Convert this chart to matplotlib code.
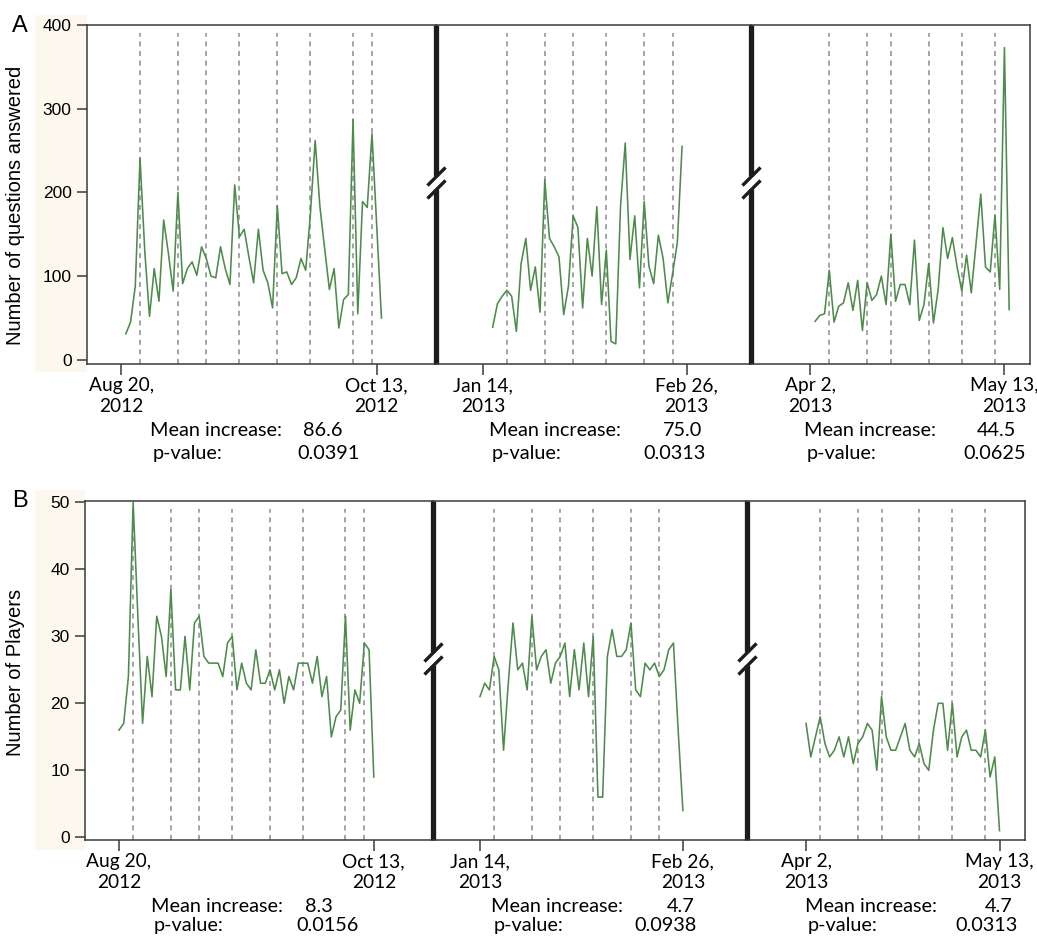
import numpy as np
import matplotlib
matplotlib.use("Agg")
import matplotlib.pyplot as plt
import matplotlib.dates as mdates
from matplotlib.patches import Rectangle

# questions answered per day, one list per study period (panel A)
answered_1 = [31, 45, 88, 241, 130, 52, 109, 70, 167, 127, 82, 200, 91, 109, 117, 101, 135, 121, 100, 98,
              135, 109, 90, 209, 147, 156, 123, 92, 156, 107, 92, 62, 184, 103, 105, 90, 98, 121, 107, 175,
              262, 183, 133, 84, 109, 38, 72, 78, 287, 55, 189, 182, 270, 160, 50]
answered_2 = [39, 67, 76, 83, 76, 34, 115, 145, 83, 111, 57, 215, 145, 135, 123, 54, 88, 172, 158, 62,
              145, 100, 183, 66, 131, 22, 19, 183, 259, 120, 172, 86, 189, 112, 91, 149, 121, 68, 103, 140, 255]
answered_3 = [46, 53, 55, 107, 45, 64, 68, 92, 59, 95, 35, 92, 71, 78, 100, 66, 150, 70, 90, 90,
              66, 143, 47, 66, 115, 44, 84, 158, 121, 146, 111, 82, 125, 80, 139, 198, 111, 105, 173, 84, 373, 60]

# players per day (panel B)
players_1 = [16, 17, 24, 50, 33, 17, 27, 21, 33, 30, 24, 37, 22, 22, 30, 22, 32, 33, 27, 26,
             26, 26, 24, 29, 30, 22, 26, 23, 22, 28, 23, 23, 25, 22, 25, 20, 24, 22, 26, 26,
             26, 23, 27, 21, 24, 15, 18, 19, 33, 16, 22, 20, 29, 28, 9]
players_2 = [21, 23, 22, 27, 25, 13, 23, 32, 25, 26, 22, 33, 25, 27, 28, 23, 26, 27, 29, 21,
             28, 22, 29, 21, 30, 6, 6, 27, 31, 27, 27, 28, 32, 22, 21, 26, 25, 26, 24, 25, 28, 29, 16, 4]
players_3 = [17, 12, 15, 18, 14, 12, 13, 15, 12, 15, 11, 14, 15, 17, 16, 10, 21, 15, 13, 13,
             15, 17, 13, 12, 14, 11, 10, 16, 20, 20, 13, 20, 12, 15, 16, 13, 13, 12, 16, 9, 12, 1]

# first day of each series (panel A is drawn one day later in the original)
answered_start = ["2012-08-21", "2013-01-16", "2013-04-03"]
players_start = ["2012-08-20", "2013-01-14", "2013-04-02"]

# dashed markers: day number counted from the series start
events_1 = [3, 11, 17, 24, 32, 39, 48, 52]
events_2 = [3, 11, 17, 24, 32, 38]
events_3 = [3, 11, 16, 24, 31, 38]

tick_dates = [["2012-08-20", "2012-10-13"], ["2013-01-14", "2013-02-26"], ["2013-04-02", "2013-05-13"]]
tick_labels = [["Aug 20,\n2012", "Oct 13,\n2012"], ["Jan 14,\n2013", "Feb 26,\n2013"],
               ["Apr 2,\n2013", "May 13,\n2013"]]

answered_mean = ["86.6", "75.0", "44.5"]
answered_p = ["0.0391", "0.0313", "0.0625"]
players_mean = ["8.3", "4.7", "4.7"]
players_p = ["0.0156", "0.0938", "0.0313"]

GREEN = "#4d8b4b"
DASH = "#8c8c8c"
SPINE = "#3a3a3a"
TXT = "Lato"

plt.rcParams["font.family"] = ["Liberation Sans", "DejaVu Sans"]

W, H = 1037, 936
fig = plt.figure(figsize=(W / 100, H / 100), dpi=100)

def fx(px):
    return px / W

def fy(py):
    return 1 - py / H

# visible range of every period, in days around its first tick
xrange_days = [(-7.2, 66.5), (-10.0, 56.6), (-12.5, 46.4)]

def build_panel(left, right, top, bottom):
    spans = [b - a for a, b in xrange_days]
    unit = (right - left) / sum(spans)
    axs = []
    x = left
    for s in spans:
        ax = fig.add_axes([fx(x), fy(bottom), s * unit / W, (bottom - top) / H])
        ax.set_facecolor("none")
        axs.append(ax)
        x += s * unit
    return axs

def draw_panel(axs, series, starts, ylim, yticks, brk=0.535, gap=0.02):
    events = [events_1, events_2, events_3]
    for k, ax in enumerate(axs):
        days = mdates.datestr2num(starts[k]) + np.arange(len(series[k]))
        for e in events[k]:
            ax.axvline(days[e], ymax=0.975, color=DASH, lw=1.1, ls=(0, (3.3, 3.0)), zorder=1)
        ax.plot(days, series[k], color=GREEN, lw=1.15, zorder=2)

        t = mdates.datestr2num(tick_dates[k])
        ax.set_xlim(t[0] + xrange_days[k][0], t[0] + xrange_days[k][1])
        ax.set_xticks(t)
        ax.set_xticklabels(tick_labels[k], fontfamily=TXT, fontsize=13.8, linespacing=1.25)
        ax.tick_params(axis="x", direction="out", length=8, width=1.1, color=SPINE, pad=1.5)
        ax.set_ylim(*ylim)

        for side in ["top", "bottom", "left", "right"]:
            ax.spines[side].set_linewidth(1.1)
            ax.spines[side].set_color(SPINE)
        if k == 0:
            ax.set_yticks(yticks)
            ax.tick_params(axis="y", direction="out", length=7.5, width=1.1, color=SPINE,
                           pad=3.5, labelsize=12.5)
        else:
            ax.spines["left"].set_visible(False)
            ax.tick_params(axis="y", left=False, labelleft=False)
        if k < 2:
            ax.spines["right"].set_visible(False)
            kw = dict(transform=ax.transAxes, color="#1c1c1c", clip_on=False, zorder=5)
            ax.plot([1, 1], [0, brk - gap], lw=3.8, solid_capstyle="butt", **kw)
            ax.plot([1, 1], [brk + gap, 1], lw=3.8, solid_capstyle="butt", **kw)
            ax.plot([1, 1], [brk - gap, brk + gap], marker=[(-1, -1), (1, 1)], markersize=13,
                    mew=2.4, linestyle="none", **kw)

def stats_text(mean_vals, p_vals, y_mean, y_p, x_lab, x_mean, x_p):
    # y positions are text baselines
    kw = dict(family=TXT, fontsize=14.3, va="baseline")
    for k in range(3):
        fig.text(fx(x_lab[k]), fy(y_mean), "Mean increase:", **kw)
        fig.text(fx(x_mean[k]), fy(y_mean), mean_vals[k], **kw)
        fig.text(fx(x_lab[k] + 3), fy(y_p), "p-value:", **kw)
        fig.text(fx(x_p[k]), fy(y_p), p_vals[k], **kw)

# light strip behind the y tick labels
fig.add_artist(Rectangle((fx(35), fy(372)), 52 / W, 357 / H, transform=fig.transFigure,
                         facecolor="#fdf8ee", edgecolor="none", zorder=-1))
fig.add_artist(Rectangle((fx(35), fy(850)), 50 / W, 360 / H, transform=fig.transFigure,
                         facecolor="#fdf8ee", edgecolor="none", zorder=-1))

# panel A
axs_a = build_panel(87, 1030, 25, 364)
draw_panel(axs_a, [answered_1, answered_2, answered_3], answered_start, (-5, 400), [0, 100, 200, 300, 400])
fig.text(fx(16), fy(205), "Number of questions answered", rotation=90, ha="center", va="center", fontsize=14.5)
fig.text(fx(20), fy(26), "A", ha="center", va="center", fontsize=17)
stats_text(answered_mean, answered_p, 436, 459, [150, 489, 804], [303, 663, 977], [297, 643, 963])

# panel B
axs_b = build_panel(85, 1025, 501, 840)
draw_panel(axs_b, [players_1, players_2, players_3], players_start, (-0.4, 50.2), [0, 10, 20, 30, 40, 50])
fig.text(fx(16), fy(672), "Number of Players", rotation=90, ha="center", va="center", fontsize=14.5)
fig.text(fx(20), fy(501), "B", ha="center", va="center", fontsize=17)
stats_text(players_mean, players_p, 912, 931, [151, 491, 805], [305, 667, 985], [296, 634, 955])

fig.savefig("out.png", dpi=100)
